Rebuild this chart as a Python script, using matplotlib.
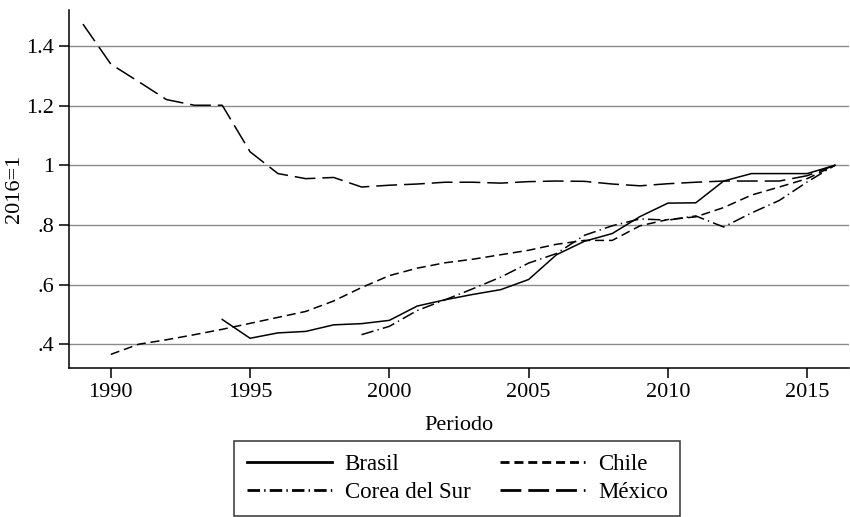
import matplotlib
matplotlib.use("Agg")
import matplotlib.pyplot as plt

# Data (index 2016=1)
years_mex = list(range(1989, 2017))
mexico = [1.473, 1.339, 1.28, 1.22, 1.201, 1.201, 1.045, 0.972, 0.955, 0.959,
          0.927, 0.933, 0.937, 0.943, 0.943, 0.940, 0.945, 0.947, 0.946, 0.937,
          0.931, 0.938, 0.943, 0.947, 0.947, 0.947, 0.965, 1.0]

years_chl = list(range(1990, 2017))
chile = [0.366, 0.40, 0.415, 0.432, 0.45, 0.47, 0.49, 0.51, 0.545, 0.59,
         0.63, 0.655, 0.673, 0.685, 0.70, 0.715, 0.735, 0.748, 0.748, 0.797,
         0.818, 0.827, 0.858, 0.90, 0.927, 0.955, 1.0]

years_bra = list(range(1994, 2017))
brasil = [0.483, 0.42, 0.438, 0.443, 0.465, 0.469, 0.48, 0.528, 0.549, 0.567,
          0.583, 0.617, 0.70, 0.745, 0.771, 0.828, 0.873, 0.874, 0.947, 0.972,
          0.972, 0.972, 1.0]

years_kor = list(range(1999, 2017))
corea = [0.432, 0.46, 0.513, 0.549, 0.586, 0.625, 0.672, 0.704, 0.765, 0.797,
         0.82, 0.816, 0.83, 0.793, 0.84, 0.882, 0.944, 1.0]

yticks = [0.4, 0.6, 0.8, 1.0, 1.2, 1.4]
ytick_labels = [".4", ".6", ".8", "1", "1.2", "1.4"]
xticks = [1990, 1995, 2000, 2005, 2010, 2015]

plt.rcParams['font.family'] = ['Liberation Serif', 'DejaVu Serif']
plt.rcParams['font.size'] = 16
plt.rcParams['lines.scale_dashes'] = False

fig = plt.figure(figsize=(8.5, 5.17), dpi=100)
ax = fig.add_axes([0.0812, 0.288, 0.9176, 0.6925])

lw = 1.1
ax.plot(years_bra, brasil, color='black', lw=lw, label='Brasil')
ax.plot(years_chl, chile, color='black', lw=lw, dashes=(6.5, 3.5), label='Chile')
ax.plot(years_kor, corea, color='black', lw=lw, dashes=(9, 3, 1, 3), label='Corea del Sur')
ax.plot(years_mex, mexico, color='black', lw=lw, dashes=(15, 5), label='México')

ax.set_xlim(1988.5, 2016.5)
ax.set_ylim(0.32, 1.52)
ax.set_yticks(yticks)
ax.set_yticklabels(ytick_labels)
ax.set_xticks(xticks)
ax.yaxis.grid(True, color='#8a8a8a', lw=1.0)
ax.set_axisbelow(True)

for side in ['top', 'right']:
    ax.spines[side].set_visible(False)
for side in ['left', 'bottom']:
    ax.spines[side].set_linewidth(1.1)
ax.tick_params(direction='out', length=7, width=1.1, colors='black', labelsize=16)

ax.set_xlabel("Periodo", fontsize=16, labelpad=10)
ax.set_ylabel("2016=1", fontsize=16, labelpad=2)

handles, labels = ax.get_legend_handles_labels()
order = [0, 2, 1, 3]
leg = fig.legend([handles[i] for i in order], [labels[i] for i in order],
                 loc='upper center', bbox_to_anchor=(0.538, 0.147), ncol=2,
                 borderaxespad=0, frameon=True, fancybox=False, edgecolor='black',
                 handlelength=3.7, columnspacing=1.3, handletextpad=0.57,
                 borderpad=0.55, labelspacing=0.32, fontsize=16.5)
leg.get_frame().set_linewidth(1.1)
for line in leg.get_lines():
    line.set_linewidth(2.0)

fig.savefig("out.png", dpi=100)
